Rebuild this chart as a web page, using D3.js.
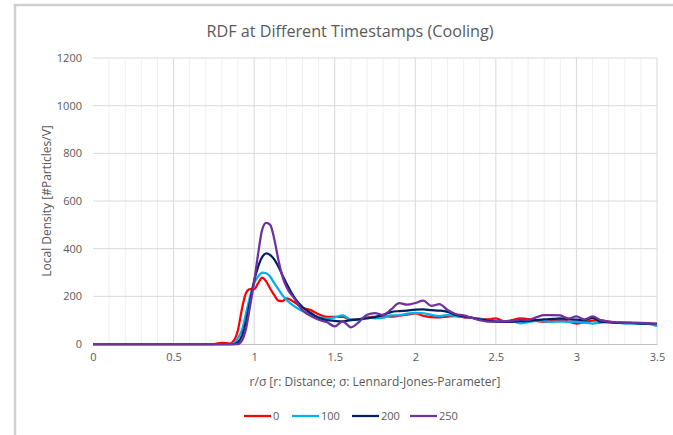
<!DOCTYPE html>
<html><head><meta charset="utf-8">
<script src="https://cdn.jsdelivr.net/npm/d3@7"></script>
<style>body{margin:0;background:#fff}svg{display:block}text{font-family:"Open Sans",sans-serif}</style>
</head><body><svg id="c" width="673" height="435"></svg>
<script>
const xs = [0,0.5,0.75,0.8,0.85,0.875,0.9,0.925,0.95,0.975,1.0,1.025,1.05,1.075,1.1,1.125,1.15,1.175,1.2,1.25,1.3,1.35,1.4,1.45,1.5,1.55,1.6,1.65,1.7,1.75,1.8,1.85,1.9,1.95,2.0,2.05,2.1,2.15,2.2,2.25,2.3,2.35,2.4,2.45,2.5,2.55,2.6,2.65,2.7,2.75,2.8,2.85,2.9,2.95,3.0,3.05,3.1,3.15,3.2,3.25,3.3,3.35,3.4,3.45,3.5];
const s0   = [0,0,0,5,2,15,60,150,215,230,230,255,278,262,232,205,182,180,191,175,152,142,125,114,114,114,102,103,112,114,116,115,119,123,128,118,113,112,115,117,112,110,105,103,108,95,100,107,104,97,93,97,100,94,86,92,98,100,94,89,90,89,88,86,84];
const s100 = [0,0,0,0,0,3,25,60,130,200,255,283,300,297,282,255,230,205,186,158,138,125,113,107,112,120,102,100,111,108,110,120,121,127,131,129,122,117,121,118,114,110,106,98,95,94,95,87,92,97,95,93,94,93,93,90,86,90,93,90,86,87,86,84,75];
const s200 = [0,0,0,0,0,0,8,35,95,180,265,325,365,380,373,355,325,290,255,195,155,130,110,100,97,95,100,104,108,113,122,134,138,140,144,145,142,140,135,122,116,111,103,98,94,93,93,96,97,100,103,105,107,104,102,100,110,94,91,89,89,88,86,85,84];
const s250 = [0,0,0,0,0,0,0,15,65,160,260,380,480,508,500,440,355,285,240,190,142,118,102,92,74,95,70,92,123,130,122,145,172,165,172,182,160,167,143,126,120,110,100,94,94,95,97,102,100,112,121,121,120,107,116,103,116,100,94,91,89,89,89,87,84];
const seriesNames = ["0","100","200","250"];
const seriesColors = ["#ff0000","#00b0f0","#002060","#7030a0"];
const yTicks = [0,200,400,600,800,1000,1200];
const xTicks = [0,0.5,1,1.5,2,2.5,3,3.5];
const title = "RDF at Different Timestamps (Cooling)";
const xTitle = "r/σ [r: Distance; σ: Lennard-Jones-Parameter]";
const yTitle = "Local Density [#Particles/V]";

const svg = d3.select("#c");
const L=93,R=657,T=58,B=344;
const x = d3.scaleLinear().domain([0,3.5]).range([L,R]);
const y = d3.scaleLinear().domain([0,1200]).range([B,T]);

// frame
svg.append("rect").attr("x",15).attr("y",5).attr("width",670).attr("height",440)
  .attr("fill","#fff").attr("stroke","#d0d0d0").attr("stroke-width",2.5);

svg.append("text").attr("x",350).attr("y",37).attr("text-anchor","middle")
  .attr("font-size",16.2).attr("fill","#595959").text(title);

// minor vertical grid
const minor = d3.range(1,35).map(i=>i/10).filter(v=>Math.abs(v*2-Math.round(v*2))>1e-6);
svg.append("g").selectAll("line").data(minor).join("line")
  .attr("x1",d=>x(d)).attr("x2",d=>x(d)).attr("y1",T).attr("y2",B)
  .attr("stroke","#f0f0f0").attr("stroke-width",1);
svg.append("g").selectAll("line").data(xTicks.slice(1)).join("line")
  .attr("x1",d=>x(d)).attr("x2",d=>x(d)).attr("y1",T).attr("y2",B)
  .attr("stroke","#d9d9d9").attr("stroke-width",1);
svg.append("g").selectAll("line").data(yTicks.slice(1)).join("line")
  .attr("x1",L).attr("x2",R).attr("y1",d=>y(d)).attr("y2",d=>y(d))
  .attr("stroke","#d9d9d9").attr("stroke-width",1);

// axes
const xAxis = svg.append("g").attr("transform",`translate(0,${B})`)
  .call(d3.axisBottom(x).tickValues(xTicks).tickSize(0).tickPadding(9).tickFormat(d=>String(d)));
xAxis.select(".domain").attr("stroke","#bfbfbf");
xAxis.selectAll("text").attr("font-size",11).attr("fill","#595959").style("font-family","Open Sans");
const yAxis = svg.append("g").attr("transform",`translate(${L},0)`)
  .call(d3.axisLeft(y).tickValues(yTicks).tickSize(0).tickPadding(11).tickFormat(d=>String(d)));
yAxis.select(".domain").remove();
yAxis.selectAll("text").attr("font-size",11).attr("fill","#595959").style("font-family","Open Sans");

svg.append("text").attr("x",375).attr("y",386).attr("text-anchor","middle")
  .attr("font-size",12).attr("fill","#595959").text(xTitle);
svg.append("text").attr("transform","translate(51,201) rotate(-90)").attr("text-anchor","middle")
  .attr("font-size",12).attr("fill","#595959").text(yTitle);

const data = [s0,s100,s200,s250];
const line = d3.line().x((d,i)=>x(xs[i])).y(d=>y(d)).curve(d3.curveMonotoneX);
data.forEach((s,k)=>{
  svg.append("path").attr("d",line(s)).attr("fill","none")
    .attr("stroke",seriesColors[k]).attr("stroke-width",2.25).attr("stroke-linejoin","round");
});

// legend
const legX = [244,292,352,410];
const lg = svg.append("g");
seriesNames.forEach((n,k)=>{
  lg.append("line").attr("x1",legX[k]).attr("x2",legX[k]+27).attr("y1",416).attr("y2",416)
    .attr("stroke",seriesColors[k]).attr("stroke-width",2.25);
  lg.append("text").attr("x",legX[k]+29).attr("y",420).attr("font-size",11)
    .attr("fill","#595959").text(n);
});
</script></body></html>
